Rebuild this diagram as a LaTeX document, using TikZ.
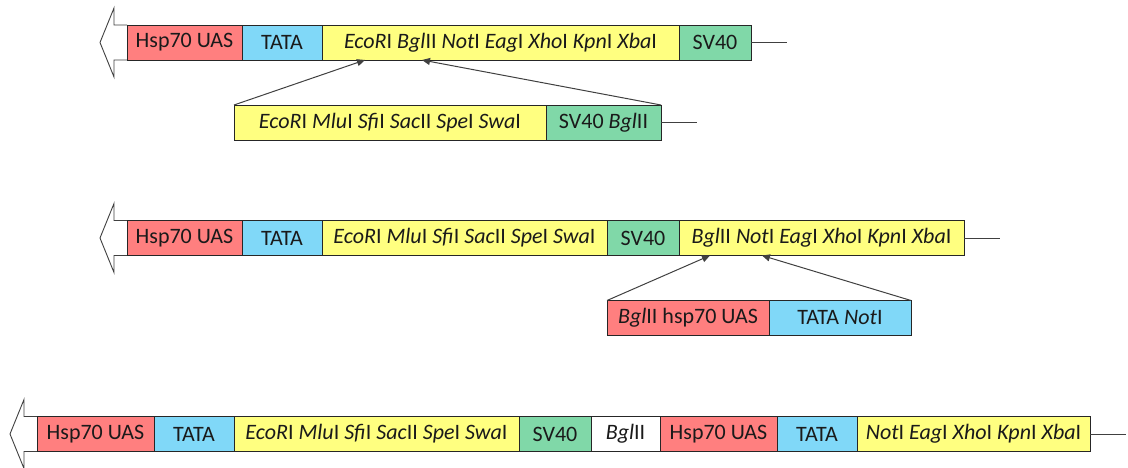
\documentclass[tikz,border=0pt]{standalone}
\usepackage{fontspec}
\setmainfont{Carlito}
\usetikzlibrary{arrows.meta,calc}
\definecolor{cred}{HTML}{FF7F7F}
\definecolor{cblue}{HTML}{80D8F8}
\definecolor{cyel}{HTML}{FFFF80}
\definecolor{cgreen}{HTML}{80D8A8}
\definecolor{cline}{HTML}{404040}
\definecolor{ctext}{HTML}{1A1A1A}
\newcommand{\enz}[2]{\textit{#1}#2}
\begin{document}
\begin{tikzpicture}[x=1pt,y=-1pt,
  font=\fontsize{22}{25}\selectfont,
  seg/.style={draw=black!85, line width=0.9pt, minimum height=35pt, inner sep=0pt, outer sep=0pt, anchor=west, text=ctext},
  segred/.style={seg, fill=cred},
  segblue/.style={seg, fill=cblue},
  segyel/.style={seg, fill=cyel},
  seggreen/.style={seg, fill=cgreen},
  segwhite/.style={seg, fill=white},
  bigarr/.style={draw=cline, line width=0.9pt, fill=white, line join=miter},
  tail/.style={draw=cline, line width=0.9pt},
  ins/.style={draw=cline, line width=1pt, -{Triangle[length=8pt,width=7pt]}}
]
\useasboundingbox (0,0) rectangle (1128,468);

% ---------- Row 1 ----------
\coordinate (o1) at (127,42.5);
\draw[bigarr] ($(o1)+(0,-17.5)$) -- ++(-13,0) -- ++(0,-17) -- ++(-14,34.5) -- ++(14,34.5) -- ++(0,-17) -- ($(o1)+(0,17.5)$);
\node[segred, minimum width=115pt] (r1a) at (o1) {Hsp70 UAS};
\node[segblue, minimum width=80pt] (r1b) at (r1a.east) {TATA};
\node[segyel, minimum width=357pt] (r1c) at (r1b.east) {\enz{EcoR}{I} \enz{Bgl}{II} \enz{Not}{I} \enz{Eag}{I} \enz{Xho}{I} \enz{Kpn}{I} \enz{Xba}{I}};
\node[seggreen, minimum width=72pt] (r1d) at (r1c.east) {SV40};
\draw[tail] (r1d.east) -- ++(36,0);

% ---------- Row 1b (insert) ----------
\node[segyel, minimum width=312pt] (r1e) at (234,122.5) {\enz{EcoR}{I} \enz{Mlu}{I} \enz{Sfi}{I} \enz{Sac}{II} \enz{Spe}{I} \enz{Swa}{I}};
\node[seggreen, minimum width=115pt] (r1f) at (r1e.east) {SV40 \enz{Bgl}{II}};
\draw[tail] (r1f.east) -- ++(36,0);
\coordinate (p1a) at ($(r1c.south west)+(43,0)$);
\coordinate (p1b) at ($(r1c.south west)+(100,0)$);
\draw[ins] (r1e.north west) -- (p1a);
\draw[ins] (r1f.north east) -- (p1b);

% ---------- Row 2 ----------
\coordinate (o2) at (127,238);
\draw[bigarr] ($(o2)+(0,-17.5)$) -- ++(-13,0) -- ++(0,-17) -- ++(-14,34.5) -- ++(14,34.5) -- ++(0,-17) -- ($(o2)+(0,17.5)$);
\node[segred, minimum width=115pt] (r2a) at (o2) {Hsp70 UAS};
\node[segblue, minimum width=80pt] (r2b) at (r2a.east) {TATA};
\node[segyel, minimum width=285pt] (r2c) at (r2b.east) {\enz{EcoR}{I} \enz{Mlu}{I} \enz{Sfi}{I} \enz{Sac}{II} \enz{Spe}{I} \enz{Swa}{I}};
\node[seggreen, minimum width=72pt] (r2d) at (r2c.east) {SV40};
\node[segyel, minimum width=285pt] (r2e) at (r2d.east) {\enz{Bgl}{II} \enz{Not}{I} \enz{Eag}{I} \enz{Xho}{I} \enz{Kpn}{I} \enz{Xba}{I}};
\draw[tail] (r2e.east) -- ++(36,0);

% ---------- Row 2b (insert) ----------
\node[segred, minimum width=162pt] (r2f) at (607,318) {\enz{Bgl}{II} hsp70 UAS};
\node[segblue, minimum width=142pt] (r2g) at (r2f.east) {TATA \enz{Not}{I}};
\coordinate (p2a) at ($(r2e.south west)+(31,0)$);
\coordinate (p2b) at ($(r2e.south west)+(83,0)$);
\draw[ins] (r2f.north west) -- (p2a);
\draw[ins] (r2g.north east) -- (p2b);

% ---------- Row 3 ----------
\coordinate (o3) at (37,434);
\draw[bigarr] ($(o3)+(0,-17.5)$) -- ++(-13,0) -- ++(0,-17) -- ++(-14,34.5) -- ++(14,34.5) -- ++(0,-17) -- ($(o3)+(0,17.5)$);
\node[segred, minimum width=117pt] (r3a) at (o3) {Hsp70 UAS};
\node[segblue, minimum width=80pt] (r3b) at (r3a.east) {TATA};
\node[segyel, minimum width=285pt] (r3c) at (r3b.east) {\enz{EcoR}{I} \enz{Mlu}{I} \enz{Sfi}{I} \enz{Sac}{II} \enz{Spe}{I} \enz{Swa}{I}};
\node[seggreen, minimum width=72pt] (r3d) at (r3c.east) {SV40};
\node[segwhite, minimum width=69pt] (r3e) at (r3d.east) {\enz{Bgl}{II}};
\node[segred, minimum width=117pt] (r3f) at (r3e.east) {Hsp70 UAS};
\node[segblue, minimum width=80pt] (r3g) at (r3f.east) {TATA};
\node[segyel, minimum width=233pt] (r3h) at (r3g.east) {\enz{Not}{I} \enz{Eag}{I} \enz{Xho}{I} \enz{Kpn}{I} \enz{Xba}{I}};
\draw[tail] (r3h.east) -- ++(36,0);
\end{tikzpicture}
\end{document}
